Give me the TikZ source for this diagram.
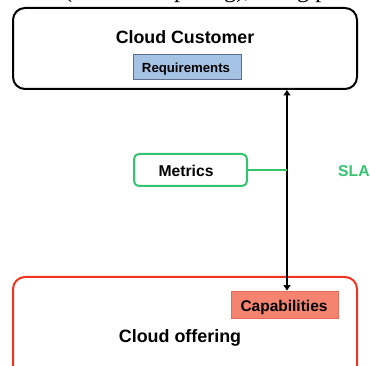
\documentclass[tikz,border=0pt]{standalone}
\usepackage{fontspec}
\setmainfont{Liberation Sans}
\newfontfamily\bodyserif{Liberation Serif}
\usetikzlibrary{arrows.meta}
\definecolor{slagreen}{RGB}{52,196,110}
\definecolor{offerred}{RGB}{240,52,30}
\definecolor{capfill}{RGB}{244,132,112}
\definecolor{capline}{RGB}{232,108,88}
\definecolor{reqfill}{RGB}{164,194,228}
\definecolor{reqline}{RGB}{96,112,140}
\tikzset{
  panel/.style={rounded corners=12pt, line width=2pt, inner sep=0pt},
  tagbox/.style={line width=0.8pt, inner sep=0pt},
  label/.style={anchor=base, inner sep=0pt, font=\bfseries\fontsize{#1}{#1}\selectfont},
  link/.style={line width=1.3pt, {Triangle[length=5.5pt,width=7pt]}-{Triangle[length=5.5pt,width=7pt]}},
}
\begin{document}
\begin{tikzpicture}[x=1pt,y=-1pt]
\useasboundingbox (0,0) rectangle (370,366);

% tail of the preceding text line, cut by the page edge
\begin{scope}
  \clip (0,0) rectangle (370,5.5);
  \node[anchor=base west, inner sep=0pt, font=\bodyserif\fontsize{24.3}{28}\selectfont] (prevline) at (64,-2) {(cloud computing), using p};
\end{scope}

% customer side
\node[panel, draw=black, minimum width=344pt, minimum height=81pt] (customer) at (185,48.5) {};
\node[label=17.8] (customerlabel) at (185,43.4) {Cloud Customer};
\node[tagbox, draw=reqline, fill=reqfill, minimum width=108pt, minimum height=25pt] (req) at (187,66.5) {};
\node[label=13.2] (reqlabel) at (186,73) {Requirements};

% provider side
\node[panel, draw=offerred, minimum width=344pt, minimum height=110pt] (offering) at (185,332) {};
\node[tagbox, draw=capline, fill=capfill, minimum width=107pt, minimum height=27pt] (cap) at (284.5,304.5) {};
\node[label=15.5] (caplabel) at (284,311.5) {Capabilities};
\node[label=17.9] (offeringlabel) at (180,343) {Cloud offering};

% agreement link
\coordinate (axis) at (287,0);
\draw[link] (customer.south -| axis) -- (cap.north -| axis);

\node[draw=slagreen, line width=2pt, rounded corners=5pt, minimum width=113pt, minimum height=32pt, inner sep=0pt] (metrics) at (190.5,170) {};
\node[label=15.7] (metricslabel) at (186,177) {Metrics};
\draw[slagreen, line width=1.3pt] (metrics.east) -- (metrics.east -| axis);
\node[label=15.7, anchor=base west, text=slagreen] (sla) at (338,177) {SLA};
\end{tikzpicture}
\end{document}
